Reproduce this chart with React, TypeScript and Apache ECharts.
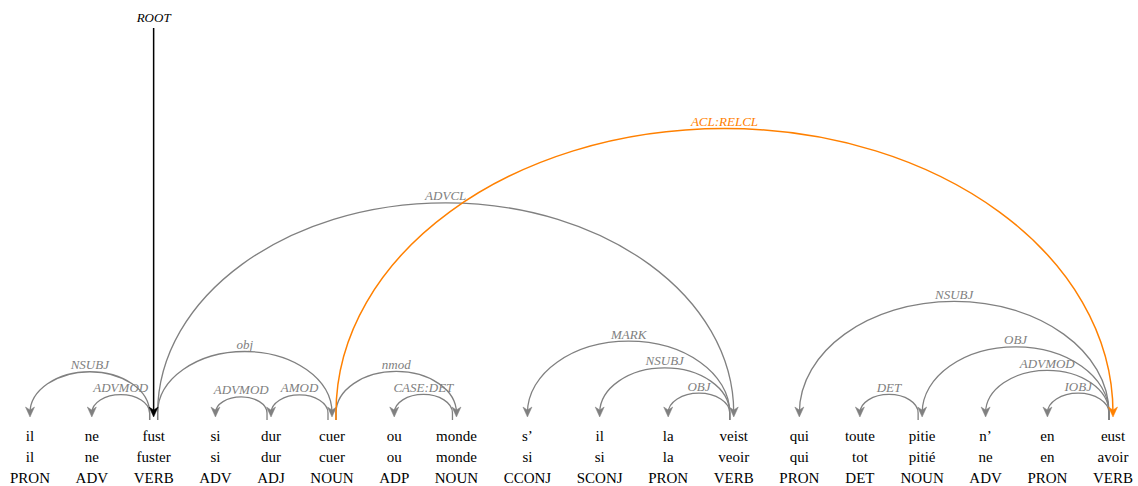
import React, { useEffect, useRef } from "react";
import * as echarts from "echarts";

// Tokens of the sentence (word form, lemma, UPOS)
const words = ["il", "ne", "fust", "si", "dur", "cuer", "ou", "monde", "s’", "il", "la", "veist", "qui", "toute", "pitie", "n’", "en", "eust"];
const lemmas = ["il", "ne", "fuster", "si", "dur", "cuer", "ou", "monde", "si", "si", "la", "veoir", "qui", "tot", "pitié", "ne", "en", "avoir"];
const upos = ["PRON", "ADV", "VERB", "ADV", "ADJ", "NOUN", "ADP", "NOUN", "CCONJ", "SCONJ", "PRON", "VERB", "PRON", "DET", "NOUN", "ADV", "PRON", "VERB"];
// 1-based head index of each token (0 = root)
const heads = [3, 3, 0, 5, 6, 3, 8, 6, 12, 12, 12, 3, 18, 15, 18, 18, 18, 6];
const deprels = ["NSUBJ", "ADVMOD", "ROOT", "ADVMOD", "AMOD", "obj", "CASE:DET", "nmod", "MARK", "NSUBJ", "OBJ", "ADVCL", "NSUBJ", "DET", "OBJ", "ADVMOD", "IOBJ", "ACL:RELCL"];
const highlighted = ["ACL:RELCL"];

const W = 1138;
const H = 486;
const SERIF = "'Liberation Serif', 'Times New Roman', serif";
const GRAY = "#808080";
const ORANGE = "#ff8000";

function layoutTokens(): number[] {
  const canvas = document.createElement("canvas");
  const ctx = canvas.getContext("2d")!;
  ctx.font = `15px ${SERIF}`;
  const widths = words.map((w, i) =>
    Math.max(ctx.measureText(w).width, ctx.measureText(lemmas[i]).width, ctx.measureText(upos[i]).width)
  );
  const first = 30;
  const last = 1113;
  let halfSum = 0;
  for (let i = 0; i < widths.length - 1; i++) halfSum += (widths[i] + widths[i + 1]) / 2;
  const pad = (last - first - halfSum) / (widths.length - 1);
  const xs = [first];
  for (let i = 1; i < widths.length; i++) xs.push(xs[i - 1] + (widths[i - 1] + widths[i]) / 2 + pad);
  return xs;
}

export default function App() {
  const ref = useRef<HTMLDivElement>(null);
  useEffect(() => {
    if (!ref.current) return;
    const chart = echarts.init(ref.current, undefined, { renderer: "svg" });
    const xs = layoutTokens();

    const ROW_WORD = 436;
    const ROW_LEMMA = 457;
    const ROW_POS = 478;
    const BASE = 413;
    const TIP = 417;
    const STUB = 420;

    const tokenData = words.map((w, i) => [xs[i], i]);
    const arcOrder = heads
      .map((h, i) => i)
      .sort((a, b) => (highlighted.includes(deprels[a]) ? 1 : 0) - (highlighted.includes(deprels[b]) ? 1 : 0));
    const arcData = arcOrder.map((i) => [heads[i] === 0 ? xs[i] : xs[heads[i] - 1], xs[i], i]);

    const arrow = (x: number, color: string) => ({
      type: "polygon",
      shape: {
        points: [
          [x, TIP],
          [x - 4.5, TIP - 10],
          [x, TIP - 7],
          [x + 4.5, TIP - 10],
        ],
      },
      style: { fill: color, stroke: color, lineWidth: 0.5 },
      z2: 5,
    });

    const option: any = {
      animation: false,
      grid: { left: 0, right: 0, top: 0, bottom: 0 },
      xAxis: { type: "value", min: 0, max: W, show: false },
      yAxis: { type: "value", min: 0, max: H, inverse: true, show: false },
      series: [
        {
          type: "custom",
          clip: false,
          silent: true,
          data: tokenData,
          renderItem: (params: any, api: any) => {
            const i = api.value(1);
            const x = api.value(0);
            const mk = (txt: string, row: number) => {
              const p = api.coord([x, row]);
              return {
                type: "text",
                x: p[0],
                y: p[1],
                style: {
                  text: txt,
                  fill: "#000",
                  font: `15px ${SERIF}`,
                  align: "center",
                  verticalAlign: "middle",
                  textAlign: "center",
                  textVerticalAlign: "middle",
                },
              };
            };
            return {
              type: "group",
              children: [mk(words[i], ROW_WORD), mk(lemmas[i], ROW_LEMMA), mk(upos[i], ROW_POS)],
            };
          },
        },
        {
          type: "custom",
          clip: false,
          silent: true,
          data: arcData,
          renderItem: (params: any, api: any) => {
            const hx = api.value(0);
            const dxv = api.value(1);
            const i = api.value(2);
            const label = deprels[i];
            if (heads[i] === 0) {
              const top = api.coord([hx, 28]);
              const bot = api.coord([hx, TIP - 6]);
              const lab = api.coord([hx, 17]);
              return {
                type: "group",
                children: [
                  {
                    type: "line",
                    shape: { x1: top[0], y1: top[1], x2: bot[0], y2: bot[1] },
                    style: { stroke: "#000", lineWidth: 1.5 },
                  },
                  arrow(bot[0], "#000"),
                  {
                    type: "text",
                    x: lab[0],
                    y: lab[1],
                    style: {
                      text: label,
                      fill: "#000",
                      font: `italic 13px ${SERIF}`,
                      align: "center",
                      verticalAlign: "middle",
                      textAlign: "center",
                      textVerticalAlign: "middle",
                    },
                  },
                ],
              };
            }
            const color = highlighted.includes(label) ? ORANGE : GRAY;
            const dir = dxv > hx ? 1 : -1;
            const p1 = api.coord([hx, BASE]);
            const p2 = api.coord([dxv, BASE]);
            const x1 = p1[0] + dir * 4;
            const x2 = p2[0];
            const yb = p1[1];
            const span = Math.abs(x2 - x1);
            const h = 0.37 * span - 3;
            const cx = (x1 + x2) / 2;
            const rx = (x2 - x1) / 2;
            const k = 0.5523;
            const yt = yb - h;
            const d =
              `M ${x1} ${STUB} L ${x1} ${yb} ` +
              `C ${x1} ${yb - k * h} ${cx - k * rx} ${yt} ${cx} ${yt} ` +
              `C ${cx + k * rx} ${yt} ${x2} ${yb - k * h} ${x2} ${yb}`;
            return {
              type: "group",
              z2: color === ORANGE ? 10 : 1,
              children: [
                {
                  type: "path",
                  shape: { pathData: d },
                  style: { stroke: color, fill: "none", lineWidth: color === ORANGE ? 1.5 : 1.3 },
                  z2: color === ORANGE ? 10 : 1,
                },
                arrow(x2, color),
                {
                  type: "text",
                  x: cx,
                  y: yt - 0.5,
                  style: {
                    text: label,
                    fill: color,
                    font: `italic 13px ${SERIF}`,
                    align: "center",
                    verticalAlign: "bottom",
                    textAlign: "center",
                    textVerticalAlign: "bottom",
                  },
                  z2: 3,
                },
              ],
            };
          },
        },
      ],
    };
    chart.setOption(option);
    return () => chart.dispose();
  }, []);
  return (
    <div
      ref={ref}
      style={{ position: "absolute", left: 0, top: 0, width: W, height: H, background: "#fff" }}
    />
  );
}
